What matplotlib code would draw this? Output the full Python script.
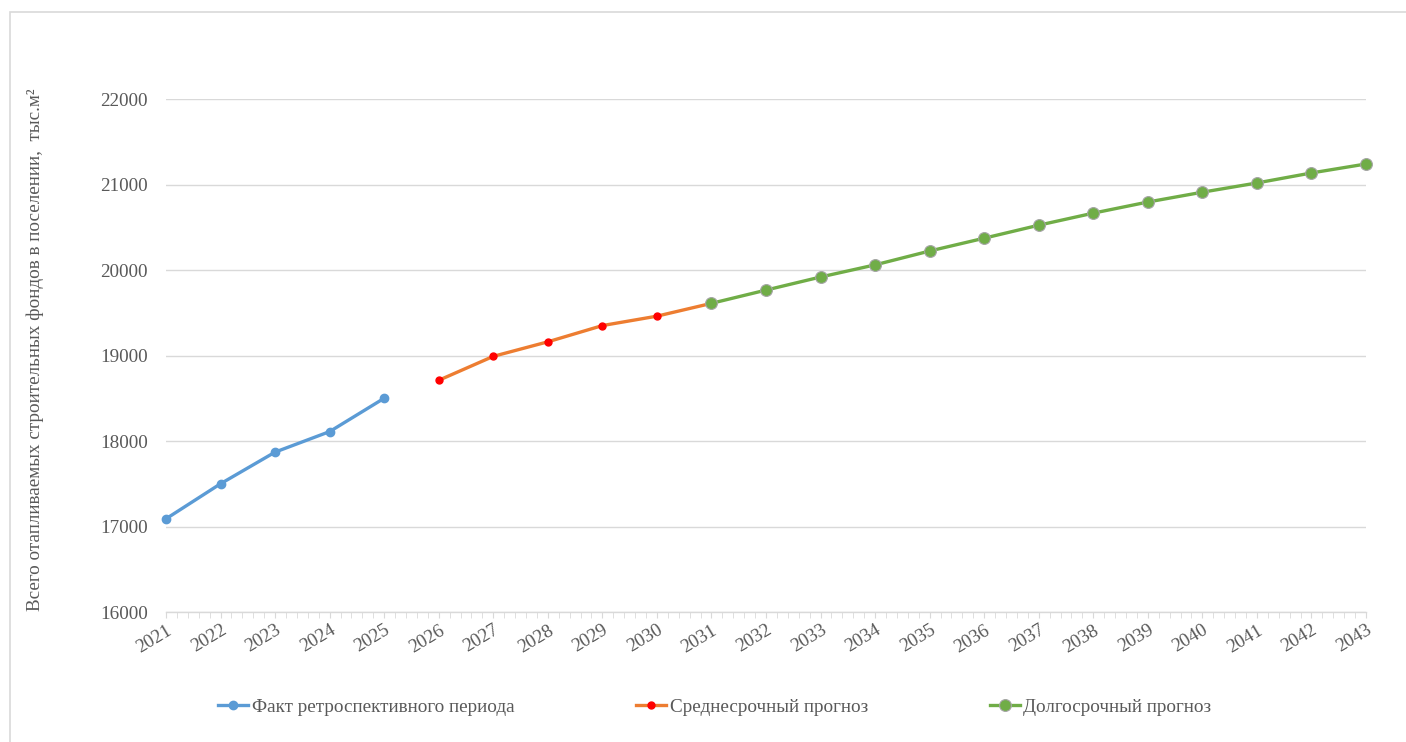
import numpy as np
import matplotlib
matplotlib.use("Agg")
import matplotlib.pyplot as plt
from matplotlib.lines import Line2D
from matplotlib.patches import Rectangle
from matplotlib.ticker import MultipleLocator

plt.rcParams['font.family'] = ['Liberation Serif', 'DejaVu Serif']

# heated building stock, thousand m2
years_fact = [2021, 2022, 2023, 2024, 2025]
fact = [17090, 17500, 17870, 18110, 18500]

years_mid = [2026, 2027, 2028, 2029, 2030, 2031]
mid = [18710, 18990, 19160, 19350, 19460, 19610]

years_long = [2031, 2032, 2033, 2034, 2035, 2036, 2037, 2038, 2039,
              2040, 2041, 2042, 2043]
long_ = [19610, 19765, 19918, 20060, 20222, 20372, 20524, 20665, 20795,
         20910, 21018, 21135, 21240]

labels = ["Факт ретроспективного периода", "Среднесрочный прогноз",
          "Долгосрочный прогноз"]
ylabel = "Всего отапливаемых строительных фондов в поселении,  тыс.м²"

c_blue = "#5B9BD5"
c_orange = "#ED7D31"
c_red = "#FF0000"
c_green = "#70AD47"
c_grid = "#D9D9D9"
c_text = "#595959"
fs = 13.8

W, H = 1406, 742
fig = plt.figure(figsize=(W / 100, H / 100), dpi=100)
ax = fig.add_axes([166 / W, 1 - 612 / H, 1200 / W, 513 / H])

ax.plot(years_fact, fact, color=c_blue, lw=2.4, marker='o', ms=6,
        mfc=c_blue, mec=c_blue, clip_on=False, zorder=3)
ax.plot(years_mid, mid, color=c_orange, lw=2.4, clip_on=False, zorder=3)
ax.plot(years_mid[:-1], mid[:-1], ls='none', marker='o', ms=5,
        mfc=c_red, mec=c_red, clip_on=False, zorder=4)
ax.plot(years_long, long_, color=c_green, lw=2.4, marker='o', ms=8.5,
        mfc=c_green, mec="#A5A5A5", mew=0.8, clip_on=False, zorder=5)

ax.set_xlim(2021, 2043)
ax.set_ylim(16000, 22000)
ax.set_yticks(np.arange(16000, 22001, 1000))
ax.yaxis.grid(True, color=c_grid, lw=1)
ax.set_axisbelow(True)
ax.tick_params(axis='y', length=0, labelsize=fs, labelcolor=c_text, pad=13)

ax.set_xticks(range(2021, 2044))
ax.xaxis.set_minor_locator(MultipleLocator(0.2))
ax.tick_params(axis='x', which='both', length=4, color=c_grid,
               labelsize=fs, labelcolor=c_text, pad=3)
for lab in ax.get_xticklabels():
    lab.set_rotation(31)
    lab.set_ha('right')
    lab.set_va('top')
    lab.set_rotation_mode('anchor')

for s in ['top', 'right', 'left']:
    ax.spines[s].set_visible(False)
ax.spines['bottom'].set_color(c_grid)
ax.spines['bottom'].set_linewidth(1)

fig.text(35 / W, 1 - 350 / H, ylabel, rotation=90, ha='center', va='center',
         fontsize=fs, color=c_text)

handles = [
    Line2D([], [], color=c_blue, lw=2.4, marker='o', ms=6, mfc=c_blue, mec=c_blue),
    Line2D([], [], color=c_orange, lw=2.4, marker='o', ms=5, mfc=c_red, mec=c_red),
    Line2D([], [], color=c_green, lw=2.4, marker='o', ms=8.5, mfc=c_green,
           mec="#A5A5A5", mew=0.8),
]
leg = fig.legend(handles, labels, loc='center left',
                 bbox_to_anchor=(218 / W, 1 - 707 / H), ncol=3, frameon=False,
                 fontsize=fs, handlelength=1.56, handletextpad=0.2,
                 columnspacing=6.35, borderaxespad=0, borderpad=0)
for t in leg.get_texts():
    t.set_color(c_text)

fig.patches.append(Rectangle((10 / W, -0.05), 1.2, 1 - 12 / H + 0.05,
                             transform=fig.transFigure, fill=False,
                             ec=c_grid, lw=1.2))

fig.savefig("out.png", dpi=100)
